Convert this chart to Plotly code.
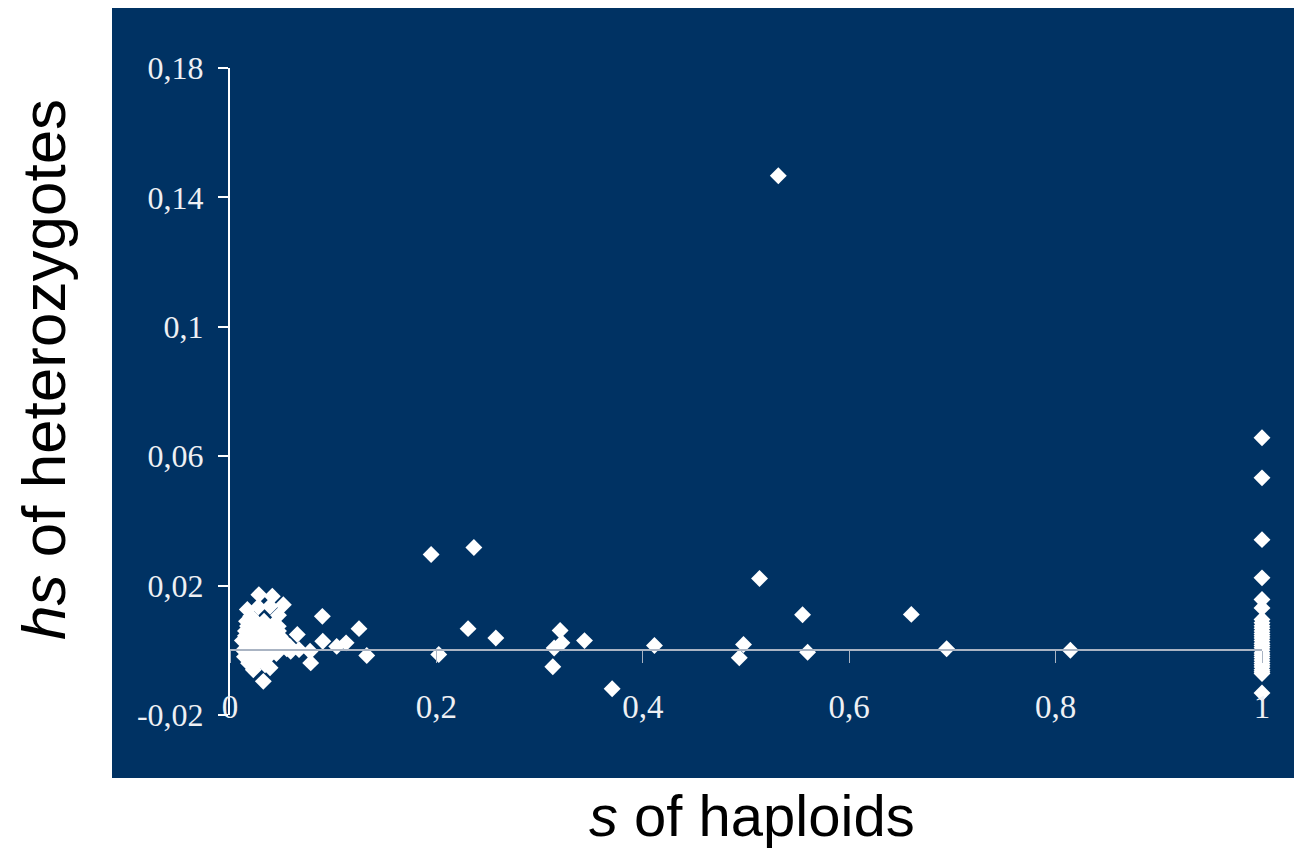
import plotly.graph_objects as go

# s of haploids (x) and hs of heterozygotes (y)
x_cluster = [0.041, 0.0168, 0.0274, 0.0517, 0.0388, 0.0895, 0.125, 0.0652, 0.0899, 0.1125,
             0.1034, 0.1325, 0.0776, 0.0782, 0.0588, 0.0669, 0.0388, 0.0323, 0.0468, 0.0485,
             0.0226, 0.028, 0.047, 0.058]
y_cluster = [0.0167, 0.0126, 0.0134, 0.0141, 0.0136, 0.0105, 0.0067, 0.0049, 0.0028, 0.0023,
             0.0012, -0.0016, -0.0003, -0.0039, -0.0003, 0.0002, -0.0054, -0.0096, 0.0074, 0.0043,
             -0.006, 0.0172, 0.0108, 0.0012]

x_blob = [0.012, 0.013, 0.014, 0.015, 0.016, 0.017, 0.018, 0.019, 0.020, 0.021,
          0.022, 0.023, 0.024, 0.025, 0.026, 0.027, 0.028, 0.029, 0.030, 0.031,
          0.032, 0.033, 0.034, 0.035, 0.036, 0.037, 0.038, 0.039, 0.040, 0.042,
          0.044, 0.045, 0.047, 0.050, 0.052, 0.055, 0.015, 0.018, 0.025, 0.030,
          0.020, 0.027, 0.034, 0.022, 0.029, 0.036, 0.017, 0.024]
y_blob = [0.003, 0.000, -0.002, 0.006, 0.009, 0.001, -0.004, 0.004, 0.007, -0.001,
          0.002, 0.0095, -0.0047, 0.005, 0.000, 0.008, -0.003, 0.003, 0.006, -0.001,
          0.001, 0.009, -0.0045, 0.004, 0.007, -0.002, 0.002, 0.005, 0.000, 0.008,
          0.003, -0.001, 0.006, 0.001, 0.003, 0.0005, 0.0045, -0.0025, 0.0015, 0.0075,
          0.0105, -0.0035, 0.0025, 0.0055, -0.0015, 0.0005, 0.0075, -0.002]

x_mid = [0.5313, 0.1949, 0.2363, 0.2307, 0.2576, 0.2023, 0.3199, 0.3216, 0.3141, 0.3128,
         0.3435, 0.3703, 0.4113, 0.5131, 0.5548, 0.5597, 0.4976, 0.4935, 0.6602, 0.6944,
         0.8143]
y_mid = [0.1467, 0.0296, 0.0318, 0.0067, 0.0038, -0.0013, 0.0061, 0.0023, 0.0007, -0.0051,
         0.0030, -0.0119, 0.0015, 0.0222, 0.0110, -0.0006, 0.0018, -0.0023, 0.0111, 0.0005,
         0.0000]

y_lethal = [0.0657, 0.0533, 0.0342, 0.0224, 0.0157, 0.0131, 0.0095, 0.0085, 0.0076, 0.0068,
            0.006, 0.0052, 0.0045, 0.0038, 0.003, 0.0022, 0.0015, 0.0008, 0.0, -0.0008,
            -0.0015, -0.0022, -0.003, -0.0038, -0.0045, -0.0052, -0.006, -0.0066, -0.0072,
            -0.0132]
x_lethal = [1.0] * len(y_lethal)

x_all = x_cluster + x_blob + x_mid + x_lethal
y_all = y_cluster + y_blob + y_mid + y_lethal

x_tickvals = [0, 0.2, 0.4, 0.6, 0.8, 1]
x_ticktext = ["0", "0,2", "0,4", "0,6", "0,8", "1"]
y_tickvals = [-0.02, 0.02, 0.06, 0.1, 0.14, 0.18]
y_ticktext = ["-0,02", "0,02", "0,06", "0,1", "0,14", "0,18"]

BG = "#003263"
AXIS_GREY = "#aab4c3"

fig = go.Figure()
fig.add_trace(go.Scatter(
    x=x_all, y=y_all, mode="markers", cliponaxis=False,
    marker=dict(symbol="diamond", size=13, color="white", line=dict(width=0)),
    showlegend=False, hoverinfo="x+y",
))

W, H = 1294, 848
L, R, T, B = 230, 32, 68, 133
pw, ph = W - L - R, H - T - B

def px_x(p):
    return (p - L) / pw

def px_y(p):
    return (H - B - p) / ph

fig.add_shape(type="rect", xref="paper", yref="paper",
              x0=px_x(112), x1=px_x(1300), y0=px_y(778), y1=px_y(8),
              fillcolor=BG, line=dict(width=0), layer="below")

fig.update_layout(
    width=W, height=H,
    margin=dict(l=L, r=R, t=T, b=B, pad=0),
    paper_bgcolor="white", plot_bgcolor=BG,
    xaxis=dict(
        range=[0, 1], anchor="free", position=0.1,
        showline=True, linecolor=AXIS_GREY, linewidth=2,
        ticks="outside", ticklen=12, tickwidth=1, tickcolor=AXIS_GREY,
        tickvals=x_tickvals, ticktext=x_ticktext,
        tickfont=dict(family="Liberation Serif", size=33, color="#eef0f4"),
        ticklabelstandoff=15,
        showgrid=False, zeroline=False,
    ),
    yaxis=dict(
        range=[-0.02, 0.18],
        showline=True, linecolor="white", linewidth=2,
        ticks="outside", ticklen=10, tickwidth=2, tickcolor="white",
        tickvals=y_tickvals, ticktext=y_ticktext,
        tickfont=dict(family="Liberation Serif", size=32, color="#eef0f4"),
        ticklabelstandoff=8,
        showgrid=False, zeroline=False,
    ),
    annotations=[
        dict(text="<i>s</i> of haploids", xref="paper", yref="paper",
             x=px_x(752), y=px_y(815), xanchor="center", yanchor="middle",
             showarrow=False, font=dict(family="Liberation Sans", size=58, color="black")),
        dict(text="<i>hs</i> of heterozygotes", xref="paper", yref="paper",
             x=px_x(43), y=px_y(370), xanchor="center", yanchor="middle", textangle=-90,
             showarrow=False, font=dict(family="Liberation Sans", size=62, color="black")),
    ],
)

fig.write_html("out.html")
